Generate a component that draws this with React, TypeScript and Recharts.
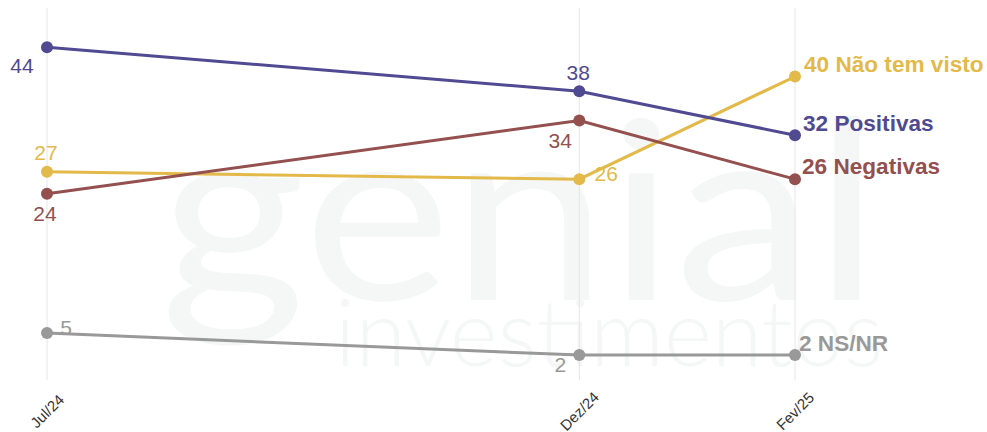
import { LineChart, Line, XAxis, YAxis, CartesianGrid, LabelList } from 'recharts'

// survey waves (days since 1 Jul 2024, so the x axis keeps real time spacing)
const waves = ['Jul/24', 'Dez/24', 'Fev/25']
const waveDays = [0, 153, 215]

const positivas = [44, 38, 32]
const negativas = [24, 34, 26]
const naoTemVisto = [27, 26, 40]
const nsnr = [5, 2, 2]

const data = waves.map((w, i) => ({
  wave: w,
  day: waveDays[i],
  positivas: positivas[i],
  negativas: negativas[i],
  naoTemVisto: naoTemVisto[i],
  nsnr: nsnr[i],
}))

type SeriesCfg = {
  key: string
  name: string
  color: string
  // label offsets per point: [dx, dy]
  offsets: [number, number][]
}

const series: SeriesCfg[] = [
  { key: 'naoTemVisto', name: 'Não tem visto', color: '#e3b94a', offsets: [[-1, -19], [27, -6], [9, -12]] },
  { key: 'positivas', name: 'Positivas', color: '#4f4a91', offsets: [[-25, 18], [-1, -19], [8, -12]] },
  { key: 'negativas', name: 'Negativas', color: '#93504f', offsets: [[-2, 20], [-19, 20], [7, -13]] },
  { key: 'nsnr', name: 'NS/NR', color: '#999999', offsets: [[19, -6], [-19, 9], [4, -12]] },
]

const FONT = '"Liberation Sans", Arial, sans-serif'

function makeLabel(s: SeriesCfg) {
  return (props: any) => {
    const { x, y, value, index } = props
    const [dx, dy] = s.offsets[index] || [0, 0]
    const last = index === waves.length - 1
    if (last) {
      return (
        <text x={x + dx} y={y + dy} fill={s.color} fontSize={22.6} fontWeight={700} fontFamily={FONT}
          textAnchor="start" dominantBaseline="central">
          {`${value} ${s.name}`}
        </text>
      )
    }
    return (
      <text x={x + dx} y={y + dy} fill={s.color} fontSize={21} fontFamily={FONT}
        textAnchor="middle" dominantBaseline="central">
        {value}
      </text>
    )
  }
}

function WaveTick(props: any) {
  const { x, payload } = props
  const i = waveDays.indexOf(payload.value)
  const cy = 411
  return (
    <text x={x} y={cy} fill="#333" fontSize={15} fontFamily={FONT} textAnchor="middle"
      dominantBaseline="central" transform={`rotate(-45 ${x} ${cy})`}>
      {waves[i]}
    </text>
  )
}

export default function App() {
  return (
    <div style={{ position: 'absolute', left: 0, top: 0, width: 987, height: 432, background: '#fff' }}>
      <svg width={987} height={432} style={{ position: 'absolute', left: 0, top: 0 }}>
        <text x={160} y={300} fontSize={250} fontWeight={400} fontFamily="Lato, sans-serif" fill="#f5f6f6"
          textLength={720} lengthAdjust="spacingAndGlyphs">genial</text>
        <text x={335} y={366} fontSize={92} fontWeight={300} fontFamily="Lato, sans-serif" fill="#f5f6f6"
          textLength={548} lengthAdjust="spacingAndGlyphs">investimentos</text>
      </svg>
      <div style={{ position: 'absolute', left: 0, top: 0 }}>
        <LineChart width={987} height={432} data={data} margin={{ top: 8, right: 192, left: 47, bottom: 0 }}>
          <CartesianGrid horizontal={false} stroke="#e6e6e6" strokeWidth={1} />
          <XAxis dataKey="day" type="number" domain={[0, 215]} ticks={waveDays} height={52}
            axisLine={false} tickLine={false} tick={<WaveTick />} interval={0} />
          <YAxis hide domain={[-1.4, 49.35]} type="number" width={0} />
          {series.map((s) => (
            <Line key={s.key} dataKey={s.key} stroke={s.color} strokeWidth={3}
              dot={{ r: 6, fill: s.color, stroke: s.color, strokeWidth: 0 }}
              activeDot={false} isAnimationActive={false}>
              <LabelList dataKey={s.key} content={makeLabel(s)} />
            </Line>
          ))}
        </LineChart>
      </div>
    </div>
  )
}
